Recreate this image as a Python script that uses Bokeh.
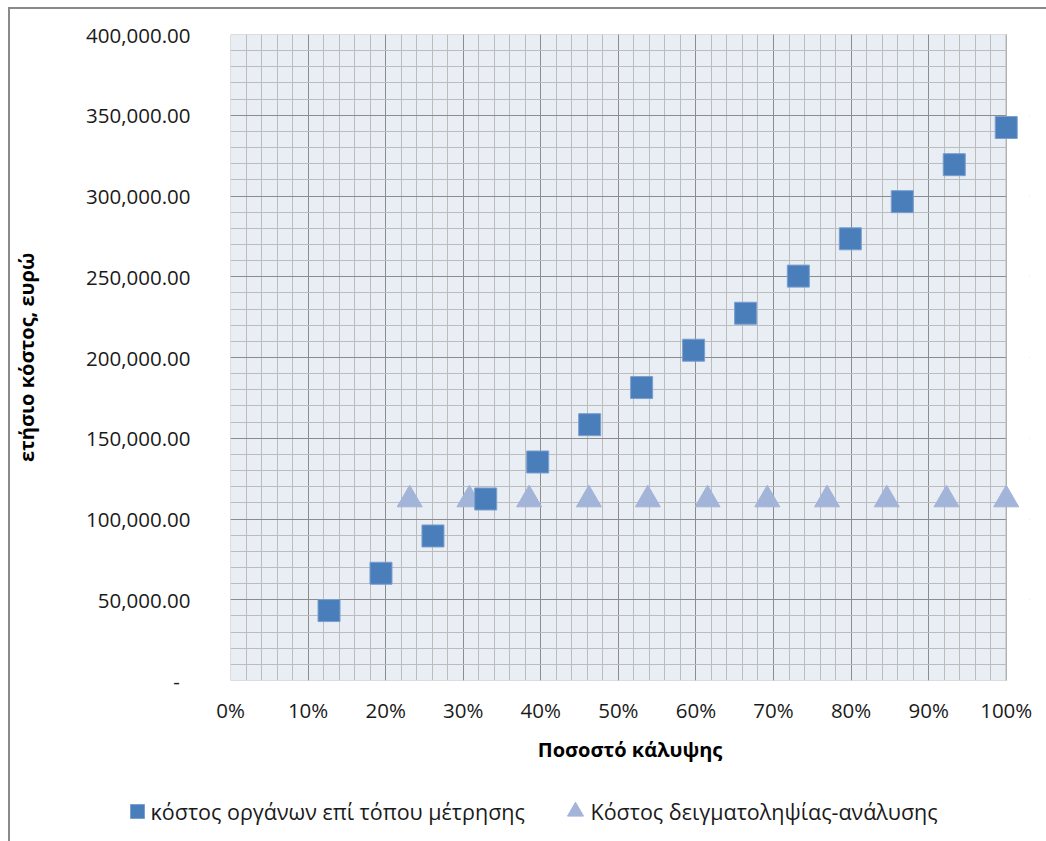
from bokeh.plotting import figure
from bokeh.layouts import column
from bokeh.core.properties import value
from bokeh.models import (Range1d, NumeralTickFormatter, PrintfTickFormatter,
                          SingleIntervalTicker)
from bokeh.embed import file_html
from bokeh.resources import INLINE

# Annual cost (EUR) of on-site measuring instruments vs. coverage (%)
instr_coverage = [12.7, 19.4, 26.1, 32.9, 39.6, 46.3, 53.0, 59.7, 66.4, 73.2, 79.9, 86.6, 93.3, 100.0]
instr_cost = [43300, 66400, 89500, 112400, 135300, 158400, 181400, 204500,
              227400, 250400, 273500, 296500, 319400, 342400]

# Annual cost (EUR) of sampling and laboratory analysis vs. coverage (%)
sampling_coverage = [23.1, 30.8, 38.5, 46.2, 53.8, 61.5, 69.2, 76.9, 84.6, 92.3, 100.0]
sampling_cost = [112000, 112000, 112000, 112000, 112000, 112000,
                 112000, 112000, 112000, 112000, 112000]

x_ticks = [0, 10, 20, 30, 40, 50, 60, 70, 80, 90, 100]
y_ticks = [0, 50000, 100000, 150000, 200000, 250000, 300000, 350000, 400000]

label_instr = "κόστος οργάνων επί τόπου μέτρησης"
label_sampling = "Κόστος δειγματοληψίας-ανάλυσης"
x_title = "Ποσοστό κάλυψης"
y_title = "ετήσιο κόστος, ευρώ"

FONT = "Open Sans"
X_MIN, X_MAX = x_ticks[0], x_ticks[-1]
Y_MIN, Y_MAX = y_ticks[0], y_ticks[-1]
X_PAD = 3.0   # room right of 100% so the last markers are not clipped

SQ_STYLE = dict(marker="square", fill_color="#4a7ebb", line_color="#7a9fd0", line_width=1)
TRI_STYLE = dict(marker="triangle", fill_color="#a3b4d9", line_color="#a3b4d9", line_width=1)

W = 1036
CHART_H = 766
LEGEND_H = 66

p = figure(width=W, height=CHART_H,
           x_range=Range1d(X_MIN, X_MAX + X_PAD),
           y_range=Range1d(Y_MIN, Y_MAX),
           output_backend="svg", toolbar_location=None,
           min_border_left=218, min_border_top=25,
           min_border_right=17, min_border_bottom=95)
p.frame_align = False

p.background_fill_color = "white"
p.border_fill_color = "white"
p.outline_line_color = None

# axes
p.xaxis.ticker = SingleIntervalTicker(interval=10, num_minor_ticks=5)
p.yaxis.ticker = SingleIntervalTicker(interval=50000, num_minor_ticks=5)
p.xaxis.formatter = PrintfTickFormatter(format="%d%%")
p.yaxis.formatter = NumeralTickFormatter(format="0,0.00")
p.yaxis.major_label_overrides = {0: "-\u00a0\u00a0"}

for ax in (p.xaxis[0], p.yaxis[0]):
    ax.axis_line_color = None
    ax.major_tick_line_color = None
    ax.minor_tick_line_color = None
    ax.major_tick_out = 0
    ax.minor_tick_out = 0
    ax.major_label_text_font = FONT
    ax.major_label_text_font_size = "20.5px"
    ax.major_label_text_color = "#1a1a1a"
    ax.axis_label_text_font = FONT
    ax.axis_label_text_font_style = "bold"
    ax.axis_label_text_font_size = "20px"
    ax.axis_label_text_color = "#000000"

p.xaxis.major_label_standoff = 15
p.xaxis.axis_label = x_title
p.xaxis.axis_label_standoff = 9
p.yaxis.major_label_standoff = 40
p.yaxis.axis_label = y_title
p.yaxis.axis_label_standoff = 43

# grid
for g in (p.xgrid[0], p.ygrid[0]):
    g.grid_line_color = "#8c8c8c"
    g.grid_line_width = 1
    g.minor_grid_line_color = "#bcbcbc"
    g.minor_grid_line_width = 1

# plot area background and border (0-100%)
p.quad(left=[X_MIN], right=[X_MAX], bottom=[Y_MIN], top=[Y_MAX],
       fill_color="#e9edf4", line_color="#bdbdbd", line_width=1, level="image")
# blank strip right of 100% (hides horizontal grid lines there)
p.quad(left=[X_MAX + 0.07], right=[X_MAX + X_PAD + 1], bottom=[Y_MIN - 10000], top=[Y_MAX + 10000],
       fill_color="white", line_color=None)
p.segment(x0=[X_MAX], y0=[Y_MIN], x1=[X_MAX], y1=[Y_MAX], line_color="#b4b4b4", line_width=1)

# markers: triangles first so the squares sit on top
p.scatter(sampling_coverage, sampling_cost, size=25, **TRI_STYLE)
p.scatter(instr_coverage, instr_cost, size=22, **SQ_STYLE)

# legend strip under the chart, laid out in pixel units
leg = figure(width=W, height=LEGEND_H, x_range=Range1d(0, W), y_range=Range1d(0, LEGEND_H),
             x_axis_location=None, y_axis_location=None,
             output_backend="svg", toolbar_location=None,
             min_border=0, min_border_left=0, min_border_right=0,
             min_border_top=0, min_border_bottom=0)
leg.frame_align = False
leg.grid.visible = False
leg.outline_line_color = None
leg.background_fill_color = "white"
leg.border_fill_color = "white"

key_y = LEGEND_H - 36
leg.scatter(x=[127], y=[key_y], size=14, **SQ_STYLE)
leg.scatter(x=[565], y=[key_y], size=16, **TRI_STYLE)
leg.text(x=[140, 580], y=[key_y, key_y], text=[label_instr, label_sampling],
         text_font=value(FONT), text_font_size="21.5px", text_color="#1a1a1a",
         text_baseline="middle", text_align="left")

page = column(p, leg, spacing=0, margin=(7, 0, 0, 8),
              styles={"border-left": "2px solid #8a8a8a", "border-top": "2px solid #8a8a8a"})

open("out.html", "w").write(file_html(page, INLINE))
